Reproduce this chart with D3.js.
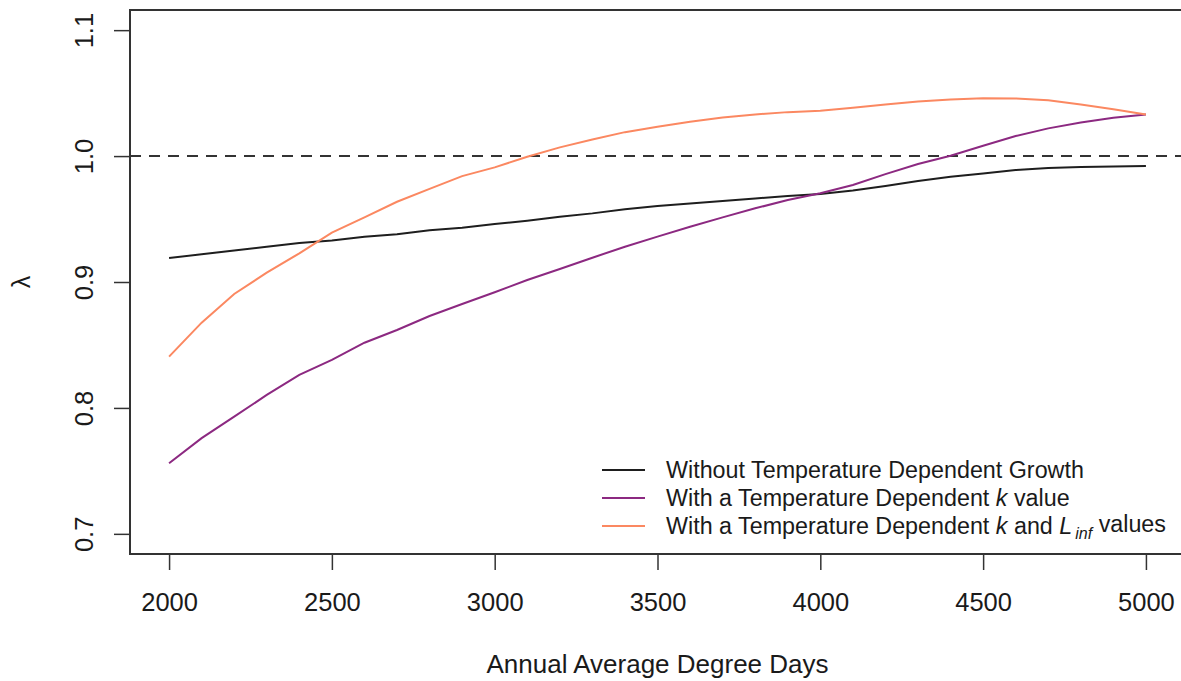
<!DOCTYPE html>
<html>
<head>
<meta charset="utf-8">
<script src="https://cdn.jsdelivr.net/npm/d3@7"></script>
<style>
  body { margin: 0; background: #fff; }
  text { font-family: "Liberation Sans", Arial, sans-serif; fill: #1a1a1a; }
</style>
</head>
<body>
<svg id="chart" width="1181" height="681"></svg>
<script>
// lambda vs annual average degree days
var degreeDays = [2000, 2100, 2200, 2300, 2400, 2500, 2600, 2700, 2800, 2900, 3000,
  3100, 3200, 3300, 3400, 3500, 3600, 3700, 3800, 3900, 4000,
  4100, 4200, 4300, 4400, 4500, 4600, 4700, 4800, 4900, 5000];

var noTempGrowth = [0.919, 0.922, 0.925, 0.928, 0.931, 0.933, 0.936, 0.938, 0.941, 0.943, 0.946,
  0.9487, 0.9519, 0.9545, 0.9577, 0.9603, 0.9624, 0.9643, 0.9664, 0.9683, 0.9698,
  0.9726, 0.9762, 0.9802, 0.9836, 0.9862, 0.9889, 0.9905, 0.9913, 0.9918, 0.9921];

var tempK = [0.756, 0.776, 0.7931, 0.8103, 0.8262, 0.8381, 0.8518, 0.8619, 0.873, 0.8825, 0.8919,
  0.9016, 0.9103, 0.9193, 0.928, 0.936, 0.9439, 0.9513, 0.9585, 0.9651, 0.9705,
  0.977, 0.9857, 0.9937, 1.0003, 1.0082, 1.0159, 1.022, 1.0267, 1.0304, 1.0331];

var tempKLinf = [0.8407, 0.8677, 0.8905, 0.9074, 0.9228, 0.9392, 0.9513, 0.9637, 0.974, 0.9841, 0.991,
  0.9995, 1.0069, 1.0132, 1.019, 1.0233, 1.0272, 1.0307, 1.0331, 1.0349, 1.036,
  1.0383, 1.041, 1.0434, 1.045, 1.046, 1.0458, 1.0444, 1.041, 1.0371, 1.0331];

var xTicks = [2000, 2500, 3000, 3500, 4000, 4500, 5000];
var yTicks = [0.7, 0.8, 0.9, 1.0, 1.1];
var yTickLabels = ["0.7", "0.8", "0.9", "1.0", "1.1"];

var seriesNames = ["Without Temperature Dependent Growth",
  "With a Temperature Dependent k value",
  "With a Temperature Dependent k and Linf values"];
var seriesColors = ["#1e1e1e", "#8c2981", "#fb8861"];

var svg = d3.select("#chart");

// R style padded ranges (4% each side)
var x = d3.scaleLinear().domain([1880, 5120]).range([130, 1185]);
var y = d3.scaleLinear().domain([0.684, 1.116]).range([554, 10]);

// reference line at lambda = 1
svg.append("line")
  .attr("x1", x(1880)).attr("x2", x(5120))
  .attr("y1", y(1)).attr("y2", y(1))
  .attr("stroke", "#333")
  .attr("stroke-width", 2)
  .attr("stroke-dasharray", "11,8");

var line = d3.line()
  .x(function(d, i) { return x(degreeDays[i]); })
  .y(function(d) { return y(d); });

[noTempGrowth, tempK, tempKLinf].forEach(function(s, i) {
  svg.append("path")
    .attr("d", line(s))
    .attr("fill", "none")
    .attr("stroke", seriesColors[i])
    .attr("stroke-width", 2);
});

// axes
var xAxis = svg.append("g")
  .attr("transform", "translate(0,554)")
  .call(d3.axisBottom(x).tickValues(xTicks).tickSize(16).tickFormat(d3.format("d")));
xAxis.select(".domain").remove();
xAxis.selectAll("line").attr("stroke", "#333").attr("stroke-width", 1.5);
xAxis.selectAll("text")
  .attr("y", 57).attr("dy", 0)
  .style("font-size", "25.5px")
  .style("font-family", "Liberation Sans, Arial, sans-serif")
  .attr("fill", "#1a1a1a");

var yAxis = svg.append("g")
  .attr("transform", "translate(130,0)")
  .call(d3.axisLeft(y).tickValues(yTicks).tickSize(16)
    .tickFormat(function(d, i) { return yTickLabels[i]; }));
yAxis.select(".domain").remove();
yAxis.selectAll("line").attr("stroke", "#333").attr("stroke-width", 1.5);
yAxis.selectAll("text")
  .attr("x", 0).attr("y", -37).attr("dy", 0)
  .attr("transform", "rotate(-90)")
  .attr("text-anchor", "middle")
  .style("font-size", "25.5px")
  .style("font-family", "Liberation Sans, Arial, sans-serif")
  .attr("fill", "#1a1a1a");

// plot frame
svg.append("rect")
  .attr("x", x(1880)).attr("y", y(1.116))
  .attr("width", x(5120) - x(1880))
  .attr("height", y(0.684) - y(1.116))
  .attr("fill", "none")
  .attr("stroke", "#333")
  .attr("stroke-width", 2);

// axis titles
svg.append("text")
  .attr("x", (x(1880) + x(5120)) / 2).attr("y", 673)
  .attr("text-anchor", "middle")
  .style("font-size", "26px")
  .text("Annual Average Degree Days");

svg.append("text")
  .attr("transform", "translate(30," + ((y(0.684) + y(1.116)) / 2) + ") rotate(-90)")
  .attr("text-anchor", "middle")
  .style("font-size", "25px")
  .text("λ");

// legend
var legend = svg.append("g").attr("transform", "translate(602,470)");
seriesNames.forEach(function(name, i) {
  var row = legend.append("g").attr("transform", "translate(0," + (i * 28) + ")");
  row.append("line")
    .attr("x1", 0).attr("x2", 43)
    .attr("stroke", seriesColors[i]).attr("stroke-width", 2);
  var t = row.append("text")
    .attr("x", 64).attr("dy", "0.36em")
    .style("font-size", "23.3px");
  if (i == 0) {
    t.text(name);
  } else if (i == 1) {
    t.append("tspan").text("With a Temperature Dependent ");
    t.append("tspan").style("font-style", "italic").text("k");
    t.append("tspan").text(" value");
  } else {
    t.append("tspan").text("With a Temperature Dependent ");
    t.append("tspan").style("font-style", "italic").text("k");
    t.append("tspan").text(" and ");
    t.append("tspan").style("font-style", "italic").text("L");
    t.append("tspan").style("font-style", "italic").style("font-size", "16px")
      .attr("dx", 3).attr("dy", "0.3em").text("inf");
    t.append("tspan").attr("dy", "-0.3em").text(" values");
  }
});
</script>
</body>
</html>
